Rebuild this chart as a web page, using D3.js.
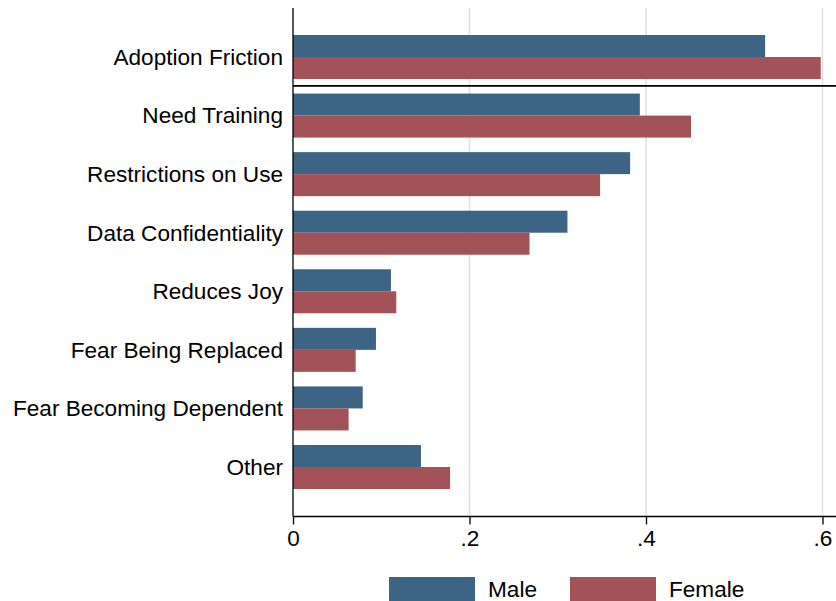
<!DOCTYPE html>
<html><head><meta charset="utf-8">
<script src="https://cdn.jsdelivr.net/npm/d3@7"></script>
<style>body{margin:0;background:#fff}svg{display:block}</style>
</head><body>
<svg id="c" width="836" height="601"></svg>
<script>
const categories = ["Adoption Friction","Need Training","Restrictions on Use","Data Confidentiality","Reduces Joy","Fear Being Replaced","Fear Becoming Dependent","Other"];
const maleValues   = [0.535, 0.393, 0.382, 0.311, 0.111, 0.094, 0.079, 0.145];
const femaleValues = [0.598, 0.451, 0.348, 0.268, 0.117, 0.071, 0.063, 0.178];
const xTicks = [0, 0.2, 0.4, 0.6];
const xTickLabels = ["0", ".2", ".4", ".6"];
const seriesNames = ["Male","Female"];
const colors = ["#3d6385","#a35357"];

const svg = d3.select("#c");
const font = "'Liberation Sans', Arial, sans-serif";
const fs = 22.6;
const x0 = 293, xTop = 8, xAxisY = 516.5;
const x = d3.scaleLinear().domain([0, 0.6]).range([x0, 822.5]);
const y = d3.scalePoint().domain(categories).range([57, 467]);
const barH = 22;

// gridlines
svg.append("g").selectAll("line").data(xTicks.slice(1)).join("line")
  .attr("x1", d => x(d)).attr("x2", d => x(d))
  .attr("y1", xTop).attr("y2", xAxisY)
  .attr("stroke", "#e2e2e2").attr("stroke-width", 1.6);

// bars
const rows = categories.map((c, i) => ({c, vals: [maleValues[i], femaleValues[i]]}));
const g = svg.append("g");
rows.forEach(r => {
  r.vals.forEach((v, j) => {
    g.append("rect")
      .attr("x", x(0)).attr("y", y(r.c) - barH + j * barH)
      .attr("width", x(v) - x(0)).attr("height", barH)
      .attr("fill", colors[j]);
  });
});

// separator line below Adoption Friction
const sepY = (y(categories[0]) + y(categories[1])) / 2;
svg.append("line").attr("x1", x0).attr("x2", 836).attr("y1", sepY - 0.5).attr("y2", sepY - 0.5)
  .attr("stroke", "#000").attr("stroke-width", 1.8);

// y axis line
svg.append("line").attr("x1", x0).attr("x2", x0).attr("y1", xTop).attr("y2", xAxisY)
  .attr("stroke", "#000").attr("stroke-width", 1.3);

// y labels
svg.append("g").selectAll("text").data(categories).join("text")
  .attr("x", 283).attr("y", d => y(d)).attr("dy", "0.35em")
  .attr("text-anchor", "end").attr("font-family", font).attr("font-size", fs)
  .attr("fill", "#000").text(d => d);

// x axis
const xAxis = d3.axisBottom(x).tickValues(xTicks).tickFormat((d, i) => xTickLabels[i]).tickSizeInner(8).tickSizeOuter(0).tickPadding(5);
const ax = svg.append("g").attr("transform", `translate(0,${xAxisY})`).call(xAxis);
ax.select(".domain").attr("d", `M${x0},0H836`).attr("stroke", "#000").attr("stroke-width", 1.3);
ax.selectAll(".tick line").attr("stroke", "#000").attr("stroke-width", 1.3);
ax.selectAll(".tick text").attr("font-family", font).attr("font-size", fs).attr("fill", "#000");

// legend
const legX = [389, 570];
seriesNames.forEach((n, i) => {
  svg.append("rect").attr("x", legX[i]).attr("y", 577).attr("width", 86).attr("height", 30).attr("fill", colors[i]);
  svg.append("text").attr("x", legX[i] + 99).attr("y", 597).attr("font-family", font).attr("font-size", fs)
    .attr("fill", "#000").text(n);
});
</script>
</body></html>
